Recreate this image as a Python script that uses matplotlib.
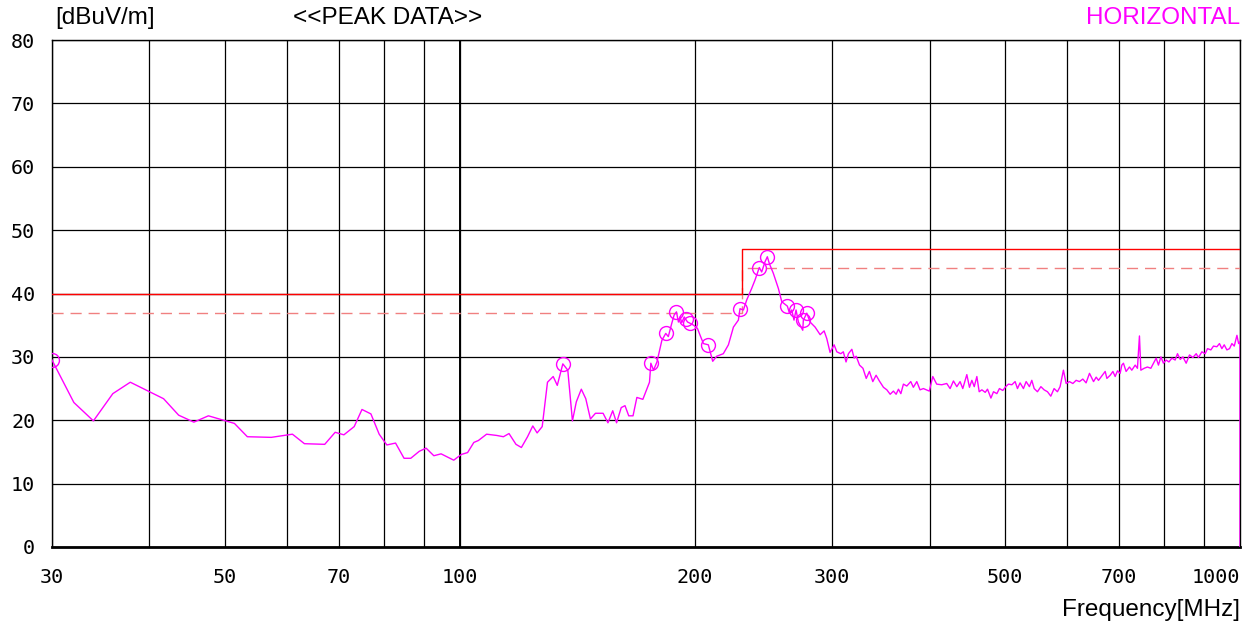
import matplotlib
matplotlib.use('Agg')
import matplotlib.pyplot as plt

# Peak trace, horizontal polarisation (MHz, dBuV/m)
freq = [30, 32.0, 33.9, 35.9, 37.8, 41.7, 43.6, 45.6, 47.6, 51.4, 53.4, 57.3, 61.0, 63.2,
        67.1, 69.2, 71.0, 73.2, 74.9, 76.9, 78.8, 80.6, 82.7, 84.8, 86.5, 88.7, 90.5, 92.6,
        94.6, 98.2, 100.4, 102.3, 104.2, 105.6, 108.2, 111.5, 113.7, 115.6, 118.0, 119.9,
        122.1, 124.0, 125.6, 127.5, 129.5, 131.7, 133.3, 135.5, 137.5, 139.4, 141.0, 143.1,
        145.0, 147.0, 149.2, 152.6, 154.8, 157.0, 158.8, 161.0, 162.8, 164.6, 166.7, 168.6,
        171.6, 175.0, 175.7, 177.1, 178.9, 181.5, 183.6, 185.0, 186.9, 188.2, 189.5, 190.6,
        191.5, 192.5, 193.9, 194.8, 195.8, 197.3, 199.3, 201.6, 203.2, 205.2, 208.2, 210.9,
        213.4, 217.6, 220.9, 224.2, 227.5, 228.6, 230.9, 233.2, 236.6, 238.9, 242.0, 243.7,
        246.1, 247.8, 249.3, 252.2, 256.0, 258.6, 262.9, 264.5, 266.3, 268.1, 269.7, 271.6,
        275.1, 275.6, 278.4, 281.1, 285.3, 289.6, 293.0, 295.3, 298.2, 301.8, 304.2, 307.8,
        310.1, 312.6, 314.8, 318.0, 320.2, 322.1, 325.3, 328.6, 331.8, 334.9, 338.3, 341.6,
        344.9, 349.1, 352.6, 356.1, 359.5, 362.4, 364.9, 367.5, 370.3, 374.0, 378.4, 381.3,
        385.2, 388.9, 392.8, 399.7, 403.8, 408.5, 414.6, 420.8, 425.0, 429.2, 433.5, 437.7,
        441.2, 446.5, 450.0, 453.2, 456.4, 459.9, 463.1, 466.8, 471.4, 474.6, 479.4, 483.1,
        487.9, 491.6, 496.5, 500.9, 504.8, 510.0, 514.9, 518.5, 522.5, 527.7, 531.9, 537.1,
        540.9, 544.7, 550.0, 555.6, 560.9, 566.5, 572.1, 577.7, 583.4, 588.0, 593.8, 598.6,
        604.4, 610.6, 616.5, 622.6, 628.8, 634.9, 641.3, 649.0, 654.1, 658.6, 665.2, 671.7,
        675.1, 681.7, 687.2, 691.8, 696.6, 702.0, 705.5, 708.9, 714.5, 721.6, 726.6, 733.9,
        738.8, 743.2, 746.3, 753.6, 760.9, 768.6, 776.1, 780.8, 786.1, 791.8, 797.7, 804.2,
        810.7, 817.9, 825.8, 831.5, 838.3, 844.9, 853.1, 861.5, 870.1, 878.7, 884.6, 893.6,
        902.3, 908.6, 917.6, 924.7, 934.0, 941.2, 947.9, 954.5, 962.0, 969.6, 976.4, 983.2,
        991.0, 995.9, 1000, 1000]
level = [29.5, 22.8, 19.9, 24.2, 26.0, 23.4, 20.8, 19.7, 20.7, 19.5, 17.4, 17.3, 17.8, 16.3,
         16.2, 18.1, 17.7, 19.0, 21.7, 21.0, 17.8, 16.1, 16.4, 14.0, 14.0, 15.1, 15.6, 14.4,
         14.7, 13.7, 14.6, 14.9, 16.5, 16.8, 17.8, 17.6, 17.4, 17.9, 16.2, 15.7,
         17.4, 19.1, 18.0, 19.0, 26.0, 26.9, 25.5, 28.9, 27.9, 19.9, 22.9, 24.9,
         23.4, 20.2, 21.1, 21.1, 19.6, 21.5, 19.6, 22.0, 22.3, 20.7, 20.7, 23.6,
         23.3, 26.0, 29.0, 27.9, 29.2, 32.6, 33.7, 33.2, 35.3, 36.6, 37.1, 35.5,
         36.3, 35.4, 36.3, 35.9, 35.5, 35.3, 35.0, 34.5, 33.4, 32.1, 31.9, 29.3,
         30.1, 30.5, 31.9, 34.7, 35.8, 37.6, 37.4, 39.0, 40.8, 42.1, 44.1, 43.4,
         45.0, 45.8, 44.7, 43.2, 40.8, 38.7, 38.0, 36.9, 37.4, 35.8, 37.4, 35.5,
         34.2, 35.8, 36.9, 35.5, 34.7, 33.5, 34.1, 32.9, 30.7, 31.9, 30.8, 30.5,
         30.8, 29.2, 30.5, 31.2, 29.8, 30.1, 28.7, 28.2, 26.6, 27.7, 26.1, 27.1,
         26.2, 25.2, 24.8, 24.1, 24.6, 24.1, 24.9, 24.2, 25.7, 25.4, 26.1, 25.2,
         26.1, 24.8, 25.0, 24.6, 26.9, 25.7, 25.6, 25.8, 25.0, 26.2, 25.3, 26.1,
         25.0, 27.2, 25.2, 26.3, 25.3, 26.9, 24.5, 24.8, 24.4, 24.9, 23.5, 24.5,
         24.2, 25.0, 24.7, 25.3, 25.7, 25.6, 26.1, 25.0, 25.9, 25.0, 26.1, 25.3,
         26.3, 25.0, 24.5, 25.3, 24.8, 24.5, 23.8, 25.0, 24.5, 25.3, 27.9, 25.8,
         26.1, 25.8, 26.3, 26.1, 26.5, 25.9, 27.4, 26.1, 26.8, 26.3, 27.0, 27.7,
         26.6, 27.1, 27.7, 26.9, 27.8, 27.4, 28.7, 29.0, 27.7, 28.4, 27.9, 28.7,
         28.2, 33.3, 27.9, 28.2, 28.4, 28.2, 29.2, 29.8, 28.7, 30.0, 29.0, 29.5,
         29.2, 29.8, 29.5, 30.5, 29.6, 30.0, 29.0, 30.3, 29.9, 30.5, 29.9, 30.8,
         30.5, 31.3, 31.1, 31.7, 31.6, 32.1, 31.3, 31.9, 31.1, 31.3, 32.1, 31.7,
         33.4, 32.1, 32.4, 0]

# Marked peaks
peak_freq = [30, 135.5, 175.7, 183.6, 189.5, 194.8, 197.3, 208.2, 228.6, 242.0, 247.8,
             262.9, 269.7, 275.6, 278.4]
peak_level = [29.5, 28.9, 29.0, 33.7, 37.1, 35.9, 35.3, 31.9, 37.6, 44.1, 45.8,
              38.0, 37.4, 35.8, 36.9]

# Limit and margin (step at 230 MHz)
limit_freq = [30, 230, 230, 1000]
limit_level = [40, 40, 47, 47]
margin_level = [37, 37, 44, 44]

xticks = [30, 50, 70, 100, 200, 300, 500, 700, 1000]
xminor = [40, 60, 80, 90, 400, 600, 800, 900]
yticks = list(range(0, 90, 10))

fig = plt.figure(figsize=(12.53, 6.27), dpi=100)
ax = fig.add_axes([52 / 1253, 80 / 627, 1188 / 1253, 507 / 627])

ax.set_xscale('log')
ax.set_xlim(30, 1000)
ax.set_ylim(0, 80)

ax.set_xticks(xticks)
ax.set_xticklabels([str(t) for t in xticks])
ax.set_xticks(xminor, minor=True)
ax.set_xticklabels([], minor=True)
ax.set_yticks(yticks)
ax.set_yticklabels([str(t) for t in yticks])

ax.grid(True, which='both', color='black', linewidth=0.9)
ax.axvline(100, color='black', linewidth=1.4, zorder=1)
ax.set_axisbelow(True)

ax.tick_params(which='both', length=0)
ax.tick_params(axis='x', pad=15)
ax.tick_params(axis='y', pad=12)
for lab in ax.get_xticklabels() + ax.get_yticklabels():
    lab.set_family('DejaVu Sans Mono')
    lab.set_fontsize(14.5)
ax.get_xticklabels()[-1].set_horizontalalignment('right')

for s in ax.spines.values():
    s.set_color('black')
    s.set_linewidth(1.0)
ax.spines['bottom'].set_linewidth(2.0)

# limit lines
ax.plot(limit_freq, margin_level, color='#f08080', linewidth=1.0, dashes=(8, 5), zorder=3)
ax.plot(limit_freq, limit_level, color='#ff0000', linewidth=1.0, zorder=3)

# trace and peak markers
ax.plot(freq, level, color='#ff00ff', linewidth=1.0, zorder=4)
ax.plot(peak_freq, peak_level, linestyle='none', marker='o', markersize=10,
        markerfacecolor='none', markeredgecolor='#ff00ff', markeredgewidth=1.0, zorder=5)

tfont = dict(family='Liberation Sans', fontsize=17.5)
fig.text(55 / 1253, 1 - 18 / 627, '[dBuV/m]', ha='left', va='center', **tfont)
fig.text(293 / 1253, 1 - 18 / 627, '<<PEAK DATA>>', ha='left', va='center', **tfont)
fig.text(1240 / 1253, 1 - 18 / 627, 'HORIZONTAL', ha='right', va='center',
         color='#ff00ff', **tfont)
fig.text(1240 / 1253, 17 / 627, 'Frequency[MHz]', ha='right', va='center', **tfont)

fig.savefig('out.png', dpi=100)
